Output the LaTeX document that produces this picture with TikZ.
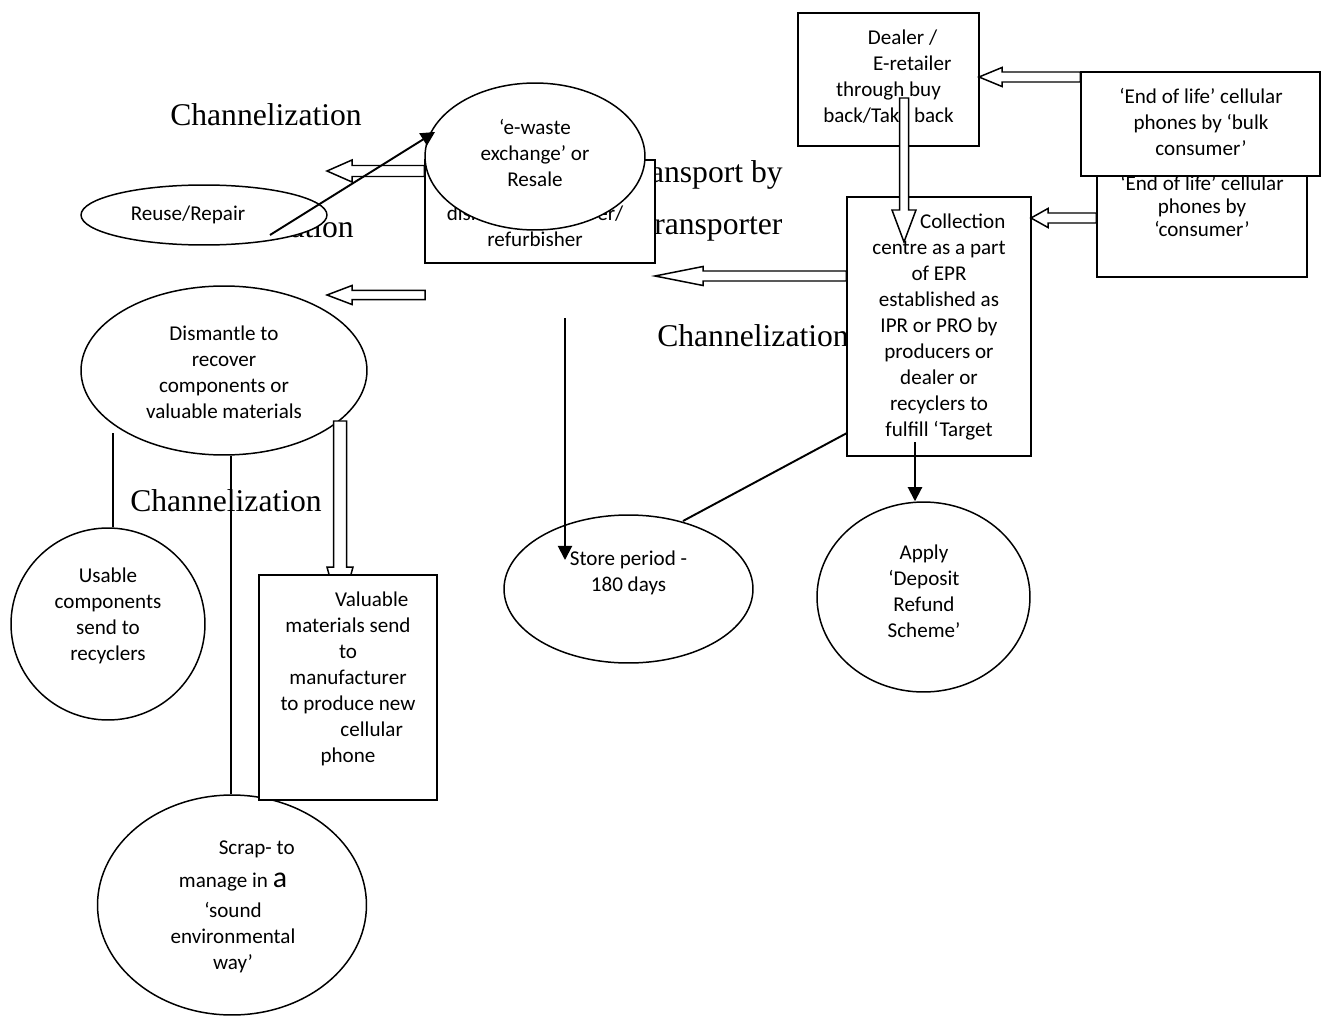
\documentclass[tikz,border=0pt]{standalone}
\usepackage{fontspec}
\setmainfont{Carlito}
\newfontfamily\chanserif{Liberation Serif}
\usetikzlibrary{arrows.meta,calc,shapes.geometric}
% hollow block arrow pointing left: tip, tail(x from it), head length, head half width, shaft half width
\newcommand{\hollowleft}[5]{\draw[hollow] (#1) -- ++(#3,-#4) -- ++(0,#4-#5) -- ($(#2 |- #1)+(0,-#5)$) -- ++(0,2*#5) -- ($(#1)+(#3,#5)$) -- ++(0,#4-#5) -- cycle;}
% hollow block arrow pointing down: tip, tail(y from it), head length, head half width, shaft half width
\newcommand{\hollowdown}[5]{\draw[hollow] (#1) -- ++(-#4,-#3) -- ++(#4-#5,0) -- ($(#1 |- #2)+(-#5,0)$) -- ++(2*#5,0) -- ($(#1)+(#5,-#3)$) -- ++(#4-#5,0) -- cycle;}
\begin{document}
\begin{tikzpicture}[x=0.02cm,y=-0.02cm,
 shp/.style={draw,line width=0.85pt,fill=white,inner sep=0pt},
 ell/.style={shp,ellipse},
 box/.style={shp,rectangle},
 txt/.style={font=\fontsize{12}{14.8}\selectfont,align=center,inner sep=0pt},
 chan/.style={font=\chanserif\fontsize{18}{20}\selectfont,inner sep=0pt},
 hollow/.style={draw,line width=0.85pt,fill=white,line join=miter},
 blk/.style={line width=1.1pt,-{Triangle[length=8pt,width=8pt]}},
 plain/.style={line width=1.1pt},
]
\fill[white] (0,0) rectangle (1322,1017);
\useasboundingbox (0,0) rectangle (1322,1017);

% background labels
\node[chan] (ch1) at (266,115) {Channelization};
\node[chan] (ch2) at (258,227) {Channelization};
\node[chan] (tr1) at (702,175) {Transport by};
\node[chan] (tr2) at (714,229) {transporter};
\node[chan] (ch3) at (753,336) {Channelization};
\node[chan] (ch4) at (226,501) {Channelization};

% dismantler box and e-waste exchange
\node[box, minimum width=4.6cm, minimum height=2.06cm] (dbox) at (540,211.5) {};
\node[txt] (dbox-t) at (535,226) {dismantler/repairer/\\refurbisher};
\node[ell, minimum width=4.4cm, minimum height=2.94cm] (ewaste) at (535,156.5) {};
\node[txt] (ewaste-t) at (535,153) {‘e-waste\\exchange’ or\\Resale};

% reuse
\node[ell, minimum width=4.92cm, minimum height=1.2cm] (reuse) at (204,215) {};
\node[txt] (reuse-t) at (188,215) {Reuse/Repair};

\coordinate (a1tip) at (327,171);
\coordinate (a2tip) at (327,295);
\coordinate (a2tail) at (425,295);
\hollowleft{a1tip}{dbox.west}{25}{11}{5.5}
\hollowleft{a2tip}{a2tail}{25}{9.5}{4.7}

\coordinate (rr-start) at (270,235);
\coordinate (ew-left) at (435,132);
\draw[blk] (rr-start) -- (ew-left);

% dismantle
\node[ell, minimum width=5.72cm, minimum height=3.38cm] (dism) at (224,370.5) {};
\node[txt] (dism-t) at (224,372) {Dismantle to\\recover\\components or\\valuable materials};

\node[ell, minimum width=3.88cm, minimum height=3.84cm] (usable) at (108,624) {};
\node[txt] (usable-t) at (108,616) {Usable\\components\\send to\\recyclers};

\node[ell, minimum width=5.38cm, minimum height=4.4cm] (scrap) at (232,905) {};
\node[txt] (scrap-t) at (233,907) {\hspace*{27pt}Scrap- to\\[4pt]manage in {\fontsize{17}{14.8}\selectfont a}\\[2pt]‘sound\\environmental\\way’};

\coordinate (l1top) at (113,433);
\draw[plain] (l1top) -- (l1top |- usable.north);
\coordinate (l2top) at (231,456);
\draw[plain] (l2top) -- (l2top |- scrap.north);

\coordinate (a7tail) at (340,421);
\coordinate (a7tip) at (340,615);
\hollowdown{a7tip}{a7tail}{48}{13}{6.5}

\node[box, minimum width=3.56cm, minimum height=4.5cm] (valu) at (348,687.5) {};
\node[txt] (valu-t) at (348,679) {\hspace*{27pt}Valuable\\materials send\\to\\manufacturer\\to produce new\\\hspace*{27pt}cellular\\phone};

% store
\node[ell, minimum width=4.98cm, minimum height=2.96cm] (store) at (628.5,589) {};
\node[txt] (store-t) at (628.5,573) {Store period -\\180 days};
\coordinate (st-in) at (565,318);
\coordinate (st-end) at (565,560);
\draw[blk] (st-in) -- (st-end);

% right side
\node[box, minimum width=4.2cm, minimum height=2.34cm] (cons) at (1202,218.5) {};
\node[txt, font=\fontsize{12}{13}\selectfont] (cons-t) at (1202,206) {‘End of life’ cellular\\phones by\\‘consumer’};
\node[box, minimum width=4.78cm, minimum height=2.08cm] (bulk) at (1200.5,124) {};
\node[txt] (bulk-t) at (1201,122) {‘End of life’ cellular\\phones by ‘bulk\\consumer’};
\node[box, minimum width=3.62cm, minimum height=2.66cm] (dealer) at (888.5,79.5) {};
\node[txt] (dealer-t) at (888.5,77) {\hspace*{16pt}Dealer /\\\hspace*{27pt}E-retailer\\through buy\\back/Take back};
\node[box, minimum width=3.68cm, minimum height=5.18cm] (coll) at (939,326.5) {};
\node[txt] (coll-t) at (939,327) {\hspace*{27pt}Collection\\centre as a part\\of EPR\\established as\\IPR or PRO by\\producers or\\dealer or\\recyclers to\\fulfill ‘Target};

\coordinate (a5tip) at (979,77);
\hollowleft{a5tip}{bulk.west}{23}{9.5}{5}
\coordinate (a4tip) at (1031,218);
\hollowleft{a4tip}{cons.west}{17}{9.5}{5}
\coordinate (a3tip) at (655,276);
\hollowleft{a3tip}{coll.west}{48}{9.5}{5}
\coordinate (a6tip) at (904,242);
\coordinate (a6tail) at (904,98);
\hollowdown{a6tip}{a6tail}{32}{12}{4.5}

\coordinate (cl-low) at (847,433);
\coordinate (st-top) at (683,521);
\draw[plain] (cl-low) -- (st-top);

\node[ell, minimum width=4.26cm, minimum height=3.8cm] (apply) at (923.5,597) {};
\node[txt] (apply-t) at (924,591) {Apply\\‘Deposit\\Refund\\Scheme’};
\coordinate (ap-in) at (915,442);
\draw[blk] (ap-in) -- (ap-in |- apply.north);
\end{tikzpicture}
\end{document}
